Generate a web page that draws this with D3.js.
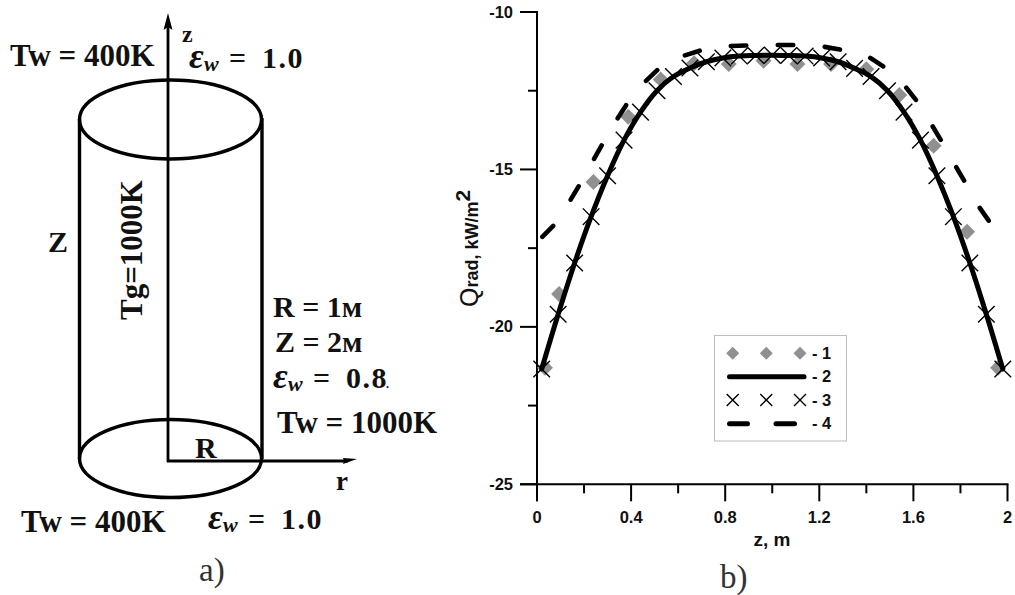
<!DOCTYPE html>
<html><head><meta charset="utf-8">
<script src="https://cdnjs.cloudflare.com/ajax/libs/d3/7.8.5/d3.min.js"></script>
<style>html,body{margin:0;padding:0;background:#fff}svg{display:block}
.ax{font-family:"Liberation Sans",Arial,sans-serif;font-weight:bold;font-size:16.5px;fill:#111}
.sf{font-family:"Liberation Serif",serif;font-weight:bold;fill:#111}
.lb{font-family:"Liberation Serif",serif;font-weight:normal;fill:#333}
</style></head><body><svg id="c" width="1015" height="595"></svg>
<script>
const xMajorTicks=[0,0.4,0.8,1.2,1.6,2];
const xMinorTicks=[0.2,0.6,1.0,1.4,1.8];
const yMajorTicks=[-10,-15,-20,-25];
const yMinorTicks=[-12.5,-17.5,-22.5];
const series1Z=[0.034,0.094,0.24,0.388,0.526,0.668,0.815,0.963,1.107,1.25,1.40,1.54,1.686,1.828,1.96];
const series1Q=[-21.3,-18.96,-15.4,-13.33,-12.14,-11.63,-11.65,-11.55,-11.65,-11.65,-11.82,-12.64,-14.25,-16.98,-21.3];
const series23Z=[0.02,0.09,0.16,0.23,0.30,0.37,0.44,0.51,0.58,0.65,0.72,0.79,0.86,0.93,1.00,1.07,1.14,1.21,1.28,1.35,1.42,1.49,1.56,1.63,1.70,1.77,1.84,1.91,1.98];
const series23Q=[-21.34,-19.6,-17.97,-16.5,-15.2,-14.07,-13.18,-12.5,-12.05,-11.78,-11.58,-11.46,-11.4,-11.38,-11.37,-11.38,-11.4,-11.46,-11.58,-11.79,-12.05,-12.5,-13.18,-14.07,-15.2,-16.5,-17.97,-19.6,-21.34];
const series4Z=[0.016,0.077,0.14,0.183,0.24,0.28,0.34,0.384,0.46,0.519,0.623,0.70,0.817,0.898,1.017,1.102,1.217,1.30,1.413,1.484,1.566,1.62,1.68,1.725,1.779,1.824,1.88,1.93,1.98];
const series4Q=[-17.19,-16.73,-16.0,-15.46,-14.7,-14.17,-13.41,-12.9,-12.21,-11.79,-11.39,-11.21,-11.08,-11.06,-11.05,-11.05,-11.10,-11.21,-11.44,-11.79,-12.37,-12.88,-13.61,-14.17,-14.89,-15.46,-16.2,-16.73,-17.2];
const legendLabels=["- 1","- 2","- 3","- 4"];

const svg=d3.select("#c");
const x=d3.scaleLinear().domain([0,2]).range([537,1007.5]);
const y=d3.scaleLinear().domain([-25,-10]).range([484.3,12]);
const INK="#000",GRAY="#909090";
const xSym={draw(c,s){const r=Math.sqrt(s)/2;c.moveTo(-r,-r);c.lineTo(r,r);c.moveTo(-r,r);c.lineTo(r,-r);}};
const diamond=s=>d3.symbol(d3.symbolSquare,s)();

// ---------- panel a ----------
const a=svg.append("g");
const st=(s,w)=>s.attr("fill","none").attr("stroke",INK).attr("stroke-width",w);
st(a.append("ellipse").attr("cx",170.5).attr("cy",119.5).attr("rx",91).attr("ry",39.5),3.4);
st(a.append("ellipse").attr("cx",170.5).attr("cy",458.5).attr("rx",91).attr("ry",39),3.4);
st(a.append("line").attr("x1",79.5).attr("x2",79.5).attr("y1",119).attr("y2",459),3.4);
st(a.append("line").attr("x1",262).attr("x2",262).attr("y1",118).attr("y2",459),3.4);
st(a.append("line").attr("x1",168).attr("x2",168).attr("y1",24).attr("y2",462),2.8);
st(a.append("line").attr("x1",167).attr("x2",348).attr("y1",461).attr("y2",461),2.8);
a.append("path").attr("d","M168,13L172.5,30L168,27L163.5,30Z").attr("fill",INK);
a.append("path").attr("d","M357,459L343,458L344,461L343,464Z").attr("fill",INK);
function T(t,px,py,size,cls="sf",rot){
  const e=a.append("text").attr("class",cls).attr("font-size",size).text(t);
  if(rot) e.attr("transform",`translate(${px},${py}) rotate(${rot})`); else e.attr("x",px).attr("y",py);
  return e;
}
function eps(px,py,val){
  T("ε",px,py,36,"sf").style("font-style","italic");
  T("w",px+15,py+3,22,"sf").style("font-style","italic");
  T("=",px+40,py,30,"sf");
  T(val,px+73,py,30,"sf").attr("letter-spacing",1.5);
}
T("Tw = 400K",10,66,31);
T("z",182,42,24);
eps(189,68,"1.0");
T("Z",48,252,30);
T("Tg=1000K",141.5,320,31,"sf",-90);
T("R = 1м",273,317,30);
T("Z = 2м",275,352,30);
eps(273,388,"0.8");
T(".",386,388,12);
T("Tw = 1000K",277,433,31);
T("R",195,458,30);
T("r",336,490,27);
T("Tw = 400K",21,532,31);
eps(208,529,"1.0");
T("a)",199,581,33,"lb");
T("b)",720,588,33,"lb");

// ---------- panel b ----------
const b=svg.append("g");
const ax=b.append("g").attr("stroke",INK).attr("stroke-width",2).attr("fill","none");
ax.append("line").attr("x1",x(0)).attr("x2",x(0)).attr("y1",y(-10)-1).attr("y2",y(-25)+17);
ax.append("line").attr("x1",x(0)-17).attr("x2",x(2)+1).attr("y1",y(-25)).attr("y2",y(-25));
yMajorTicks.forEach(v=>ax.append("line").attr("x1",x(0)-17).attr("x2",x(0)).attr("y1",y(v)).attr("y2",y(v)));
yMinorTicks.forEach(v=>ax.append("line").attr("x1",x(0)-9).attr("x2",x(0)).attr("y1",y(v)).attr("y2",y(v)));
xMajorTicks.forEach(v=>ax.append("line").attr("x1",x(v)).attr("x2",x(v)).attr("y1",y(-25)).attr("y2",y(-25)+17));
xMinorTicks.forEach(v=>ax.append("line").attr("x1",x(v)).attr("x2",x(v)).attr("y1",y(-25)).attr("y2",y(-25)+9));
yMajorTicks.forEach(v=>b.append("text").attr("class","ax").attr("x",513).attr("y",y(v)+5.5).attr("text-anchor","end").text(v));
xMajorTicks.forEach(v=>b.append("text").attr("class","ax").attr("x",x(v)).attr("y",523).attr("text-anchor","middle").text(v));
b.append("text").attr("class","ax").style("font-size","19px").attr("x",772).attr("y",546).attr("text-anchor","middle").text("z, m");
const yt=b.append("text").attr("class","ax").attr("transform","translate(478,307) rotate(-90)");
yt.append("tspan").style("font-size","25px").style("font-weight","normal").text("Q");
yt.append("tspan").style("font-size","18px").text("rad, kW/m");
yt.append("tspan").style("font-size","21px").attr("dy",-8).text("2");

const idx=d3.range(series1Z.length);
b.append("g").selectAll("path").data(idx).join("path").attr("d",diamond(128)).attr("fill",GRAY)
 .attr("transform",i=>`translate(${x(series1Z[i])},${y(series1Q[i])}) rotate(45)`);
const line=d3.line().x(d=>x(d[0])).y(d=>y(d[1]));
b.append("path").attr("d",line.curve(d3.curveCatmullRom)(d3.zip(series23Z,series23Q))).attr("fill","none")
 .attr("stroke",INK).attr("stroke-width",5).attr("stroke-linecap","round");
b.append("g").selectAll("path").data(d3.range(series23Z.length)).join("path")
 .attr("d",d3.symbol(xSym,275)()).attr("fill","none").attr("stroke",INK).attr("stroke-width",1.4)
 .attr("transform",i=>`translate(${x(series23Z[i])},${y(series23Q[i])})`);
b.append("path").attr("d",line.curve(d3.curveLinear)(d3.zip(series4Z,series4Q))).attr("fill","none")
 .attr("stroke",INK).attr("stroke-width",4.6).attr("stroke-linecap","round")
 .attr("stroke-dasharray","15.5 31.5").attr("stroke-dashoffset",-2.2);

// ---------- legend ----------
const lg=b.append("g");
lg.append("rect").attr("x",714.5).attr("y",335.5).attr("width",132).attr("height",105.5).attr("fill","#fff").attr("stroke","#bdbdbd").attr("stroke-width",1);
const rows=[353.3,376.7,400,423.7], mk=[732.7,766.3,800];
mk.forEach(m=>{
  lg.append("path").attr("d",diamond(84)).attr("fill",GRAY).attr("transform",`translate(${m},${rows[0]}) rotate(45)`);
  lg.append("path").attr("d",d3.symbol(xSym,144)()).attr("fill","none").attr("stroke",INK).attr("stroke-width",1.4).attr("transform",`translate(${m},${rows[2]})`);
});
lg.append("line").attr("x1",729.5).attr("x2",804).attr("y1",rows[1]).attr("y2",rows[1]).attr("stroke",INK).attr("stroke-width",5).attr("stroke-linecap","round");
[[729.5,747.5],[776,794.5]].forEach(s=>lg.append("line").attr("x1",s[0]).attr("x2",s[1]).attr("y1",rows[3]).attr("y2",rows[3]).attr("stroke",INK).attr("stroke-width",5).attr("stroke-linecap","round"));
legendLabels.forEach((t,i)=>lg.append("text").attr("class","ax").attr("x",812).attr("y",rows[i]+5.5).text(t));
</script></body></html>
